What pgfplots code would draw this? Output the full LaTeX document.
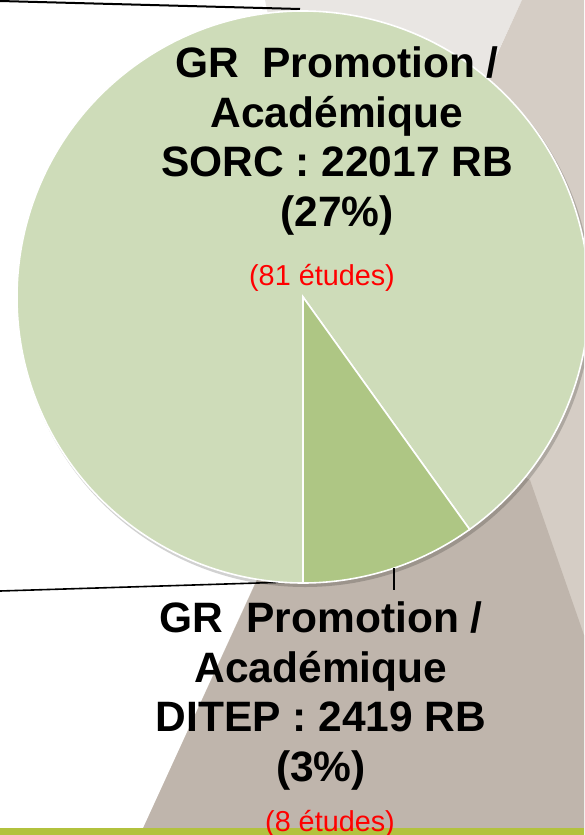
\documentclass[border=0pt]{standalone}
\usepackage{pgfplots}
\usepackage{pgfplotstable}
\pgfplotsset{compat=1.18}
\usepackage{fontspec}
\setmainfont{Liberation Sans}
\definecolor{lgreen}{HTML}{CEDCB9}
\definecolor{dgreen}{HTML}{AEC684}
\definecolor{bggray}{HTML}{E9E6E3}
\definecolor{ltaupe}{HTML}{D5CDC5}
\definecolor{dtaupe}{HTML}{BFB5AC}
\definecolor{barg}{HTML}{B2C23E}
\pgfplotstableread{
label value
SORC 22017
DITEP 2419
}\pietable
\begin{document}%
\begin{tikzpicture}
\pgfplotstablegetelem{0}{value}\of\pietable\edef\vA{\pgfplotsretval}
\pgfplotstablegetelem{1}{value}\of\pietable\edef\vB{\pgfplotsretval}
\edef\angB{\fpeval{360*\vB/(\vA+\vB)}}
\begin{axis}[scale only axis, width=292pt, height=417.5pt,
  xmin=0, xmax=584, ymin=0, ymax=835, y dir=reverse, hide axis]
% background
\fill[white] (axis cs:0,0) rectangle (axis cs:584,835);
\fill[bggray] (axis cs:265,0) -- (axis cs:522,0) -- (axis cs:420,220) -- (axis cs:290,120) -- cycle;
\fill[ltaupe] (axis cs:522,0) -- (axis cs:584,0) -- (axis cs:584,835) -- (axis cs:140,835) -- cycle;
\fill[dtaupe] (axis cs:140,835) -- (axis cs:584,835) -- (axis cs:584,635) -- (axis cs:530,480) -- (axis cs:349,380) -- cycle;
\fill[barg] (axis cs:0,828) rectangle (axis cs:584,835);
% connector lines
\draw[line width=1pt] (axis cs:0,1) -- (axis cs:300,9);
\draw[line width=0.8pt] (axis cs:0,591) -- (axis cs:290,582);
% pie
\fill[black, opacity=0.18] (axis cs:305,300) circle[radius=143.5pt];
\fill[lgreen, draw=white, line width=0.8pt] (axis cs:303,297) -- ++(-90+\angB:143pt)
   arc[start angle=-90+\angB, end angle=270, radius=143pt] -- cycle;
\fill[dgreen, draw=white, line width=0.8pt] (axis cs:303,297) -- ++(-90:143pt)
   arc[start angle=-90, end angle=-90+\angB, radius=143pt] -- cycle;
\draw[line width=0.6pt] (axis cs:394,568) -- (axis cs:394,590);
% labels
\node[align=center, font=\bfseries\fontsize{21.25}{24.7}\selectfont] at (axis cs:337,141)
  {GR\ \ Promotion /\\Académique\\SORC : 22017 RB\\(27\%)};
\node[text=red, font=\fontsize{14.4}{17}\selectfont] at (axis cs:322,278) {(81 études)};
\node[align=center, font=\bfseries\fontsize{21.25}{24.7}\selectfont] at (axis cs:321,696)
  {GR\ \ Promotion /\\Académique\\DITEP : 2419 RB\\(3\%)};
\node[text=red, font=\fontsize{14.4}{17}\selectfont] at (axis cs:330,824) {(8 études)};
\end{axis}
\pgfresetboundingbox
\useasboundingbox (current axis.south west) rectangle (current axis.north east);
\end{tikzpicture}%
\end{document}
